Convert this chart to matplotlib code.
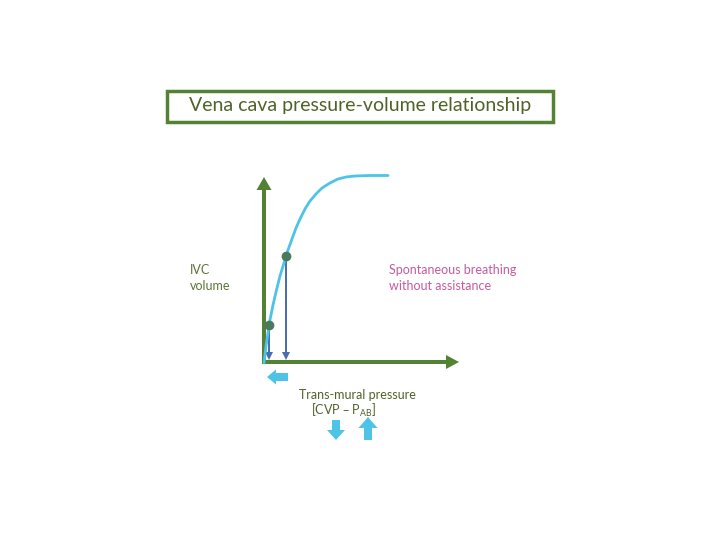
import matplotlib.pyplot as plt
import matplotlib.patches as mpatches

# curve (pixel coords, y grows downward)
curve_x = [264, 266, 268, 270, 273, 276, 280, 284, 288, 292, 296, 300, 305, 310, 316,
           322, 330, 338, 346, 355, 370, 388]
curve_y = [363, 346, 333, 320, 305, 292, 276, 263, 250, 239, 228, 219, 209, 201, 194,
           188, 183, 179, 177, 176, 175.5, 175.5]
point_x = [269, 286]
point_y = [325, 256]

title = 'Vena cava pressure-volume relationship'
green = '#548235'
olive = '#4f6228'
light_blue = '#4dc3e8'
dark_blue = '#4a6fb0'

plt.rcParams['font.family'] = ['Lato', 'DejaVu Sans']

fig = plt.figure(figsize=(7.2, 5.4), dpi=100)
ax = fig.add_axes([0, 0, 1, 1])
ax.set_xlim(0, 720)
ax.set_ylim(540, 0)
ax.axis('off')

# title box
ax.add_patch(mpatches.Rectangle((167, 91), 386, 31, fill=False, edgecolor=green, lw=2.5))
ax.text(360, 106, title, ha='center', va='center', fontsize=14, color=olive)

# axes arrows
ax.add_patch(mpatches.FancyArrow(264, 363, 0, -186, width=4, head_width=15, head_length=13,
                                 length_includes_head=True, color=green, lw=0))
ax.add_patch(mpatches.FancyArrow(262, 362, 197, 0, width=4, head_width=14, head_length=13,
                                 length_includes_head=True, color=green, lw=0))

# curve and points
ax.plot(curve_x, curve_y, color=light_blue, lw=2, solid_capstyle='round',
        solid_joinstyle='round')
for px, py in zip(point_x, point_y):
    ax.add_patch(mpatches.FancyArrow(px, py, 0, 360 - py, width=2, head_width=8, head_length=8,
                                     length_includes_head=True, color=dark_blue, lw=0))
ax.plot(point_x, point_y, 'o', color='#4a7a5c', ms=6, zorder=5)

# block arrows
ax.add_patch(mpatches.FancyArrow(288, 377, -21, 0, width=8, head_width=15, head_length=9,
                                 length_includes_head=True, color=light_blue, lw=0))
ax.add_patch(mpatches.FancyArrow(336, 420, 0, 20, width=8, head_width=18, head_length=10,
                                 length_includes_head=True, color=light_blue, lw=0))
ax.add_patch(mpatches.FancyArrow(368, 440, 0, -23, width=8, head_width=19, head_length=11,
                                 length_includes_head=True, color=light_blue, lw=0))

# labels
ax.text(190, 278, 'IVC\nvolume', ha='left', va='center', fontsize=9, color='#5b7535',
        linespacing=1.5)
ax.text(389, 278, 'Spontaneous breathing\nwithout assistance', ha='left', va='center',
        fontsize=9, color='#c55a9d', linespacing=1.5)
ax.text(357, 395, 'Trans-mural pressure', ha='center', va='center', fontsize=9, color=olive)
ax.text(344, 410, '[CVP – P$_{\\mathregular{AB}}$]', ha='center', va='center', fontsize=9,
        color=olive)

fig.savefig('out.png', dpi=100)
